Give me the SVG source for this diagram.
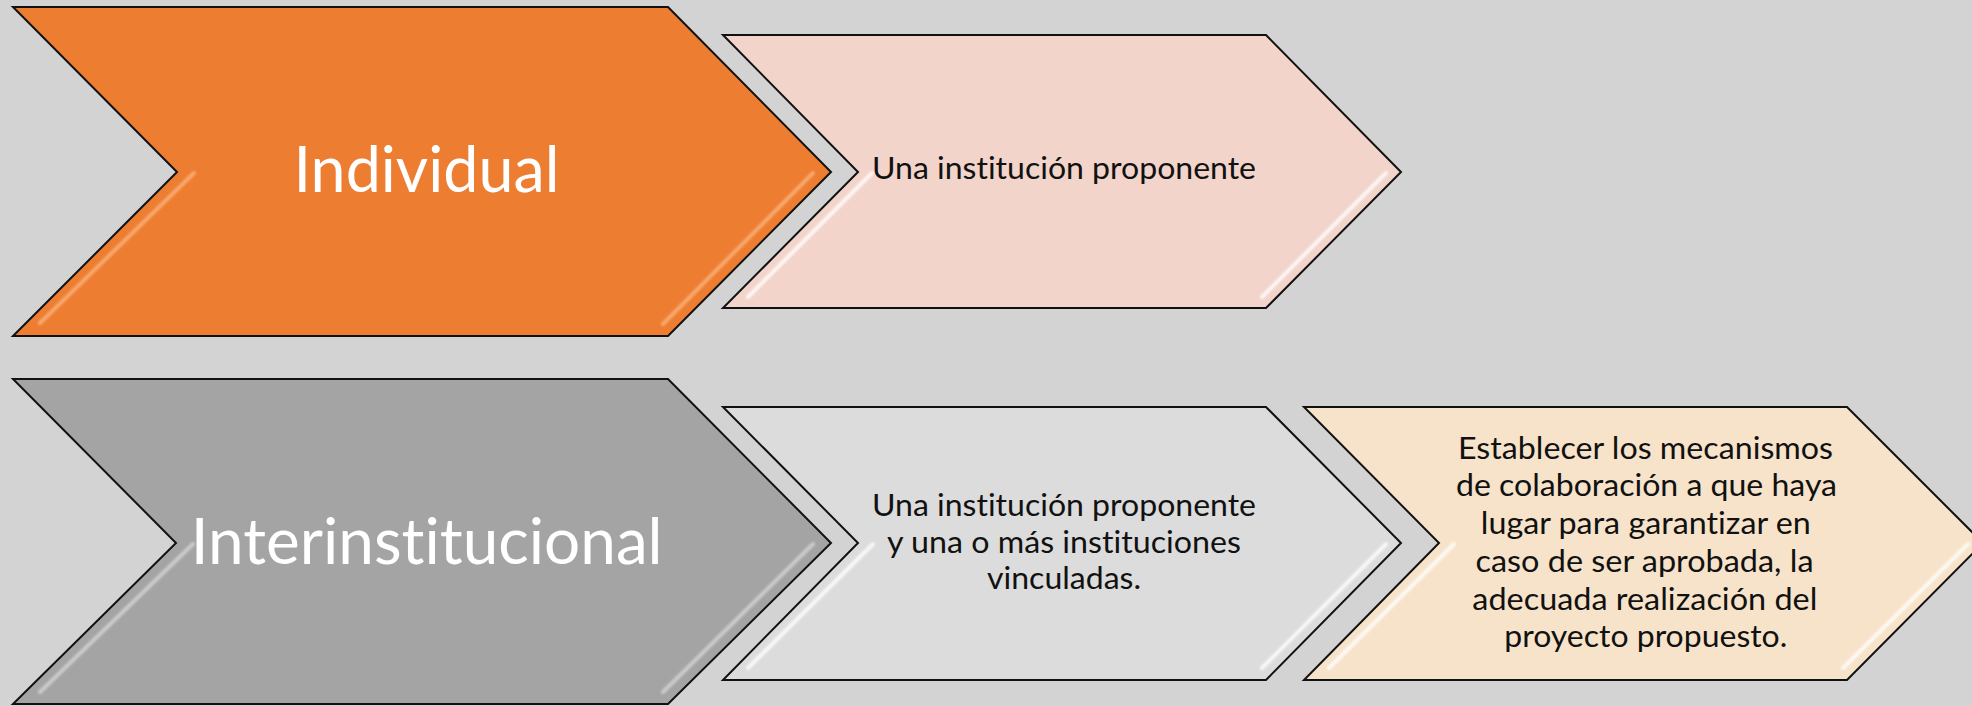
<svg xmlns="http://www.w3.org/2000/svg" width="1972" height="706" viewBox="0 0 1972 706">
<defs>
<style>
.shape{stroke:#111;stroke-width:2;stroke-linejoin:miter}
.hl{fill:none;stroke-width:4;stroke-linecap:round;opacity:0.8}
text{font-family:Lato,"Liberation Sans",sans-serif;font-variant-ligatures:none;font-feature-settings:"liga" 0,"clig" 0;text-anchor:middle}
.big{font-size:63px;fill:#fff}
.small{font-size:30px;fill:#111}
</style>
<filter id="soft" x="-10%" y="-10%" width="120%" height="120%"><feGaussianBlur stdDeviation="1.2"/></filter>
</defs>
<rect width="1972" height="706" fill="#d3d3d3"/>
<g id="connectors"/>
<g id="node-individual">
<polygon class="shape" fill="#ed7d31" points="13,7 668,7 831,172 668,336 13,336 177,172"/>
<g filter="url(#soft)"><path class="hl" stroke="#fbb37c" d="M194,173 L40,323 M813,173 L663,324"/></g>
<text class="big" x="426.5" y="192" textLength="266" lengthAdjust="spacingAndGlyphs">Individual</text>
</g>
<g id="node-una-institucion">
<polygon class="shape" fill="#f2d4ca" points="723,35 1266,35 1401,172 1266,308 723,308 858,172"/>
<g filter="url(#soft)"><path class="hl" stroke="#ffffff" d="M872,173 L748,297 M1386,173 L1262,297"/></g>
<text class="small" x="1064" y="178.5" textLength="384" lengthAdjust="spacingAndGlyphs">Una institución proponente</text>
</g>
<g id="node-interinstitucional">
<polygon class="shape" fill="#a4a4a4" points="13,379 668,379 831,543 668,704 13,704 176,543"/>
<g filter="url(#soft)"><path class="hl" stroke="#d4d4d4" d="M193,544 L40,692 M813,544 L663,692"/></g>
<text class="big" x="426.7" y="563.5" textLength="472" lengthAdjust="spacingAndGlyphs">Interinstitucional</text>
</g>
<g id="node-una-institucion-vinculadas">
<polygon class="shape" fill="#dcdcdc" points="723,407 1266,407 1401,543 1266,680 723,680 858,543"/>
<g filter="url(#soft)"><path class="hl" stroke="#ffffff" d="M873,544 L748,668 M1386,544 L1262,668"/></g>
<text class="small" x="1064" y="516" textLength="384" lengthAdjust="spacingAndGlyphs">Una institución proponente</text>
<text class="small" x="1064" y="552.5" textLength="354" lengthAdjust="spacingAndGlyphs">y una o más instituciones</text>
<text class="small" x="1064" y="588.5" textLength="154" lengthAdjust="spacingAndGlyphs">vinculadas.</text>
</g>
<g id="node-establecer">
<polygon class="shape" fill="#f6e3ca" points="1304,407 1847,407 1983,543 1847,680 1304,680 1439,543"/>
<g filter="url(#soft)"><path class="hl" stroke="#ffffff" d="M1454,544 L1329,668 M1968,544 L1843,668"/></g>
<text class="small" x="1645.5" y="458.5" textLength="375" lengthAdjust="spacingAndGlyphs">Establecer los mecanismos</text>
<text class="small" x="1646.5" y="496" textLength="381" lengthAdjust="spacingAndGlyphs">de colaboración a que haya</text>
<text class="small" x="1645.8" y="533.5" textLength="330" lengthAdjust="spacingAndGlyphs">lugar para garantizar en</text>
<text class="small" x="1644.5" y="571.5" textLength="338" lengthAdjust="spacingAndGlyphs">caso de ser aprobada, la</text>
<text class="small" x="1644.8" y="609.5" textLength="345" lengthAdjust="spacingAndGlyphs">adecuada realización del</text>
<text class="small" x="1645.8" y="646.8" textLength="283" lengthAdjust="spacingAndGlyphs">proyecto propuesto.</text>
</g>
</svg>
